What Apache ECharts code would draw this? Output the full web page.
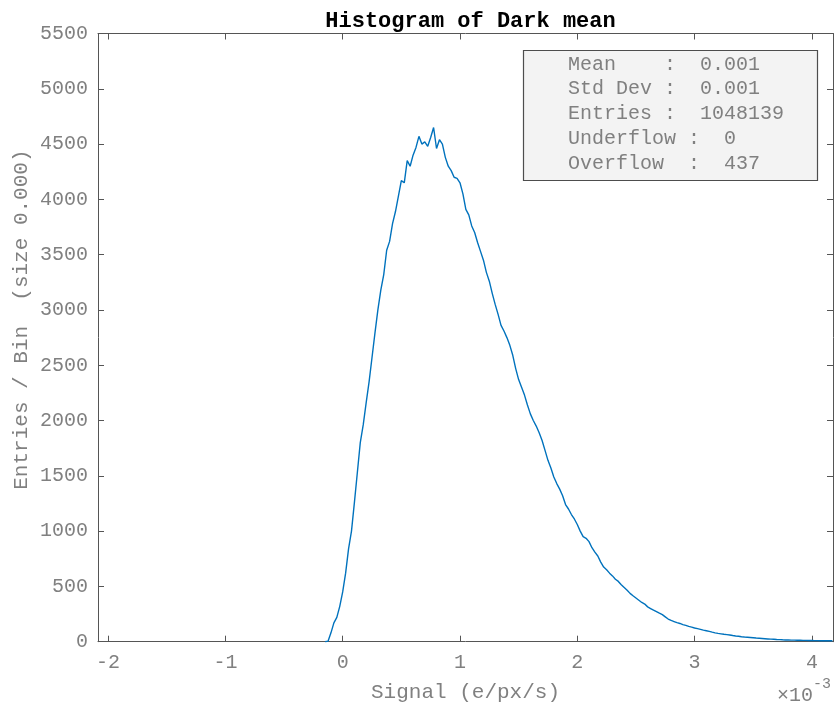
<!DOCTYPE html>
<html>
<head>
<meta charset="utf-8">
<script src="https://cdn.jsdelivr.net/npm/echarts@6/dist/echarts.min.js"></script>
<style>html,body{margin:0;padding:0;background:#fff}#c{width:836px;height:709px}</style>
</head>
<body>
<div id="c"></div>
<script>
// Histogram bins (x in units of 1e-3 e/px/s)
const binStart = -0.15;
const binWidth = 0.025;
const counts = [
  0, 5, 80, 170, 220, 320, 450, 620, 840, 1000,
  1260, 1530, 1800, 1960, 2160, 2350, 2570, 2790, 3000, 3180,
  3320, 3540, 3620, 3780, 3890, 4030, 4170, 4150, 4350, 4300,
  4400, 4470, 4570, 4500, 4520, 4480, 4560, 4650, 4460, 4540,
  4500, 4380, 4300, 4260, 4200, 4190, 4150, 4050, 3910, 3860,
  3760, 3700, 3610, 3530, 3450, 3340, 3260, 3150, 3050, 2960,
  2860, 2810, 2750, 2680, 2590, 2470, 2370, 2300, 2230, 2140,
  2060, 2000, 1950, 1890, 1820, 1730, 1640, 1570, 1490, 1430,
  1380, 1320, 1240, 1200, 1150, 1110, 1060, 1000, 950, 935,
  905, 850, 810, 775, 720, 675, 650, 620, 595, 565,
  545, 515, 490, 465, 437, 415, 395, 375, 355, 340,
  315, 300, 285, 272, 258, 245, 225, 205, 192, 182,
  172, 165, 155, 148, 138, 132, 124, 118, 112, 105,
  99, 93, 86, 80, 75, 71, 67, 64, 61, 56,
  52, 49, 45, 42, 40, 38, 36, 33, 31, 29,
  27, 25, 23, 22, 20, 19, 17, 16, 15, 14,
  14, 13, 13, 12, 12, 11, 11, 10, 10, 9,
  9, 9, 8, 8
];
const xTicks = [-2, -1, 0, 1, 2, 3, 4];
const xMin = -2.086, xMax = 4.18;
const yMin = 0, yMax = 5500, yStep = 500;
const statsLines = [
  'Mean    :  0.001',
  'Std Dev :  0.001',
  'Entries :  1048139',
  'Underflow :  0',
  'Overflow  :  437'
];
const titleText = 'Histogram of Dark mean';
const xName = 'Signal (e/px/s)';
const yName = 'Entries / Bin  (size 0.000)';
const xScaleBase = '×10';
const xScaleExp = '-3';

const seriesData = counts.map((c, i) => [+(binStart + i * binWidth).toFixed(4), c]);

const mono = 'Liberation Mono';
const axisCol = '#555555';
const labCol = '#808080';
const plain = v => String(v);

const chart = echarts.init(document.getElementById('c'), null, {renderer: 'canvas'});
chart.setOption({
  animation: false,
  backgroundColor: '#fff',
  title: {
    text: titleText,
    left: 465.5, textAlign: 'center', top: 5,
    textStyle: {fontFamily: mono, fontSize: 22, fontWeight: 'bold', color: '#000'}
  },
  grid: {left: 98, right: 3, top: 33.5, bottom: 67.3, containLabel: false, outerBoundsMode: 'none'},
  xAxis: [{
    type: 'value', min: xMin, max: xMax, position: 'bottom',
    name: xName, nameLocation: 'middle', nameGap: 40, nameMoveOverlap: false,
    nameTextStyle: {fontFamily: mono, fontSize: 21, color: labCol},
    axisLine: {show: true, onZero: false, lineStyle: {color: axisCol, width: 1}},
    axisTick: {show: true, inside: true, length: 6, customValues: xTicks, lineStyle: {color: axisCol}},
    axisLabel: {show: true, customValues: xTicks, margin: 11, fontFamily: mono, fontSize: 20, color: labCol, formatter: plain},
    splitLine: {show: false}
  }, {
    type: 'value', min: xMin, max: xMax, position: 'top',
    axisLine: {show: true, onZero: false, lineStyle: {color: axisCol, width: 1}},
    axisTick: {show: true, inside: true, length: 6, customValues: xTicks, lineStyle: {color: axisCol}},
    axisLabel: {show: false}, splitLine: {show: false}
  }],
  yAxis: [{
    type: 'value', min: yMin, max: yMax, interval: yStep, position: 'left',
    name: yName, nameLocation: 'middle', nameGap: 66, nameRotate: 90, nameMoveOverlap: false,
    nameTextStyle: {fontFamily: mono, fontSize: 21, color: labCol, padding: [0, 0, 0, 36]},
    axisLine: {show: true, onZero: false, lineStyle: {color: axisCol, width: 1}},
    axisTick: {show: true, inside: true, length: 6, lineStyle: {color: axisCol}},
    axisLabel: {show: true, margin: 10, fontFamily: mono, fontSize: 20, color: labCol, formatter: plain},
    splitLine: {show: false}
  }, {
    type: 'value', min: yMin, max: yMax, interval: yStep, position: 'right',
    axisLine: {show: true, onZero: false, lineStyle: {color: axisCol, width: 1}},
    axisTick: {show: true, inside: true, length: 6, lineStyle: {color: axisCol}},
    axisLabel: {show: false}, splitLine: {show: false}
  }],
  series: [{
    type: 'line', xAxisIndex: 0, yAxisIndex: 0,
    data: seriesData, showSymbol: false, symbol: 'none',
    lineStyle: {color: '#0072BD', width: 1.4},
    z: 1
  }],
  graphic: [
    {type: 'rect', shape: {x: 523.5, y: 50.5, width: 294, height: 130},
     style: {fill: '#f3f3f3', stroke: '#4d4d4d', lineWidth: 1.2}, z: 100},
    {type: 'text', x: 568, y: 52, z: 101,
     style: {text: statsLines.join('\n'), font: '20px "Liberation Mono"', lineHeight: 24.8, fill: labCol, textVerticalAlign: 'top'}},
    {type: 'text', x: 813, y: 696, z: 101,
     style: {text: xScaleBase, font: '20px "Liberation Mono"', fill: labCol, textAlign: 'right', textVerticalAlign: 'middle'}},
    {type: 'text', x: 813, y: 684, z: 101,
     style: {text: xScaleExp, font: '15px "Liberation Mono"', fill: labCol, textAlign: 'left', textVerticalAlign: 'middle'}}
  ]
});
</script>
</body>
</html>
